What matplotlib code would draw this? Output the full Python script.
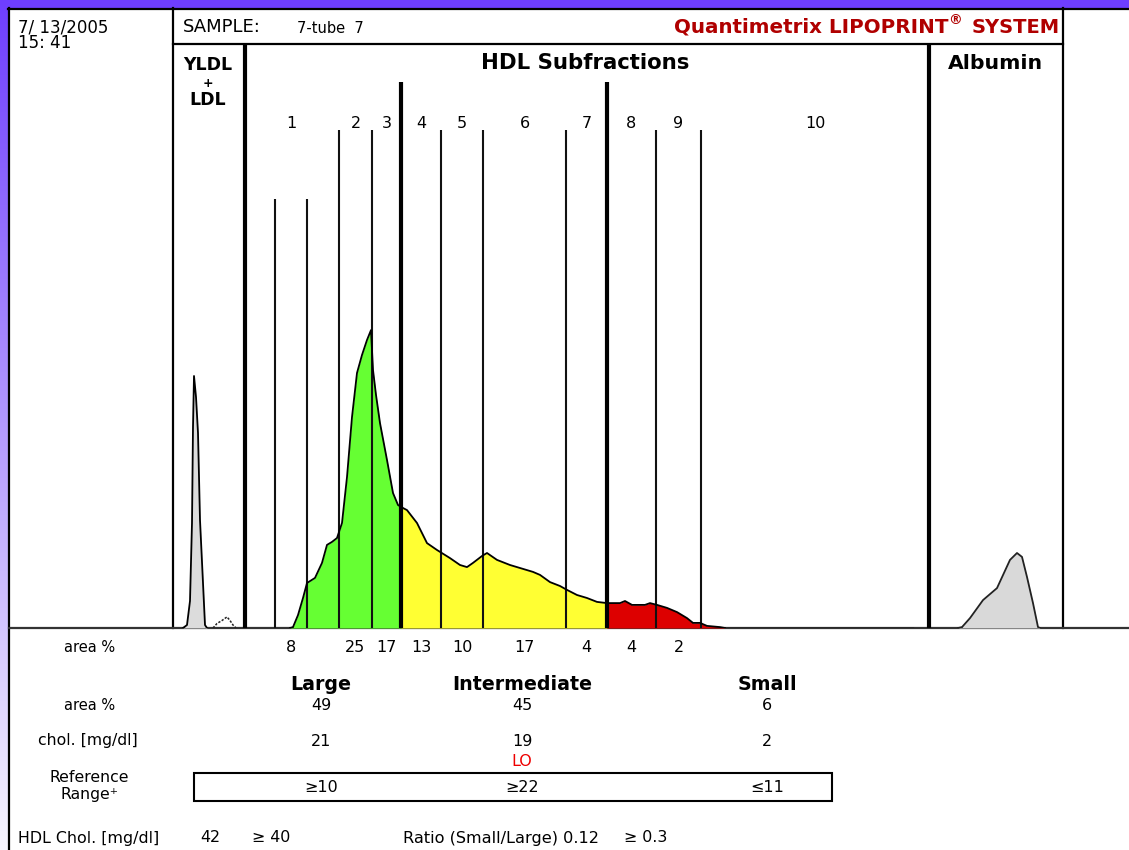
import numpy as np
import matplotlib
matplotlib.use("Agg")
import matplotlib.pyplot as plt

plt.rcParams['font.family'] = ['DejaVu Sans']

# ---- densitometric scan (position along gel, relative intensity) ----
vldl_pos = [10, 14, 17, 19, 20, 21, 23, 25, 27, 30, 32, 34]
vldl_int = [0, 1, 9, 35, 67, 84, 77, 65, 36, 15, 1, 0]

bump_pos = [40, 44, 49, 54, 57, 60, 63]
bump_int = [0, 1.5, 2.5, 3.7, 2.5, 1, 0]

hdl_pos = [117, 120, 125, 130, 134, 142, 149, 154, 159, 164, 169, 174, 179, 184,
           189, 194, 198, 200, 203, 207, 214, 220, 225, 230, 234, 244, 254, 264,
           277, 287, 294, 300, 309, 314, 324, 337, 347, 360, 367, 377, 387, 394,
           404, 414, 424, 434, 447, 452, 459, 472, 477, 484, 494, 504, 514, 520,
           527, 534, 547, 552]
hdl_int = [0, 0.3, 4.3, 10, 15, 16.7, 21.7, 27.7, 28.7, 30, 35, 50.3, 70.3, 85,
           91, 96, 99.3, 86, 77.7, 68.3, 56, 45, 41, 40, 39.3, 35, 28.3, 26,
           23.3, 21, 20.3, 21.7, 24, 25, 22.7, 21, 20, 18.7, 17.7, 15.3, 14, 12.7,
           11, 10, 8.7, 8.3, 8.3, 9, 7.7, 7.7, 8.3, 7.7, 6.7, 5.3, 3.3, 1.7,
           1.7, 0.7, 0.3, 0]

alb_pos = [785, 789, 797, 810, 824, 837, 844, 849, 854, 860, 865, 867]
alb_int = [0, 0.3, 3.3, 9.3, 13.3, 22.7, 25, 23.7, 17, 8.3, 0.3, 0]

# ---- subfraction boundaries ----
section_edges = [72, 756]                 # VLDL+LDL | HDL | Albumin
band_edges = [102, 134, 166, 199, 228, 268, 310, 393, 434, 483, 528]
band_tops = [143, 143, 166, 166, 182, 166, 166, 166, 182, 166, 166]
thick_edges = [228, 434]                  # Large | Intermediate | Small
band_names = ["1", "2", "3", "4", "5", "6", "7", "8", "9", "10"]
band_spans = [(102, 134), (166, 199), (199, 228), (228, 268), (268, 310),
              (310, 393), (393, 434), (434, 483), (483, 528), (528, 756)]
band_area = ["8", "25", "17", "13", "10", "17", "4", "4", "2", ""]

# ---- summary table ----
groups = ["Large", "Intermediate", "Small"]
group_area = ["49", "45", "6"]
group_chol = ["21", "19", "2"]
group_flag = ["", "LO", ""]
group_ref = ["\u226510", "\u226522", "\u226411"]

sample_date = "7/ 13/2005"
sample_time = "15: 41"
sample_id = "7-tube  7"
hdl_chol = "42"
hdl_ref = "\u2265 40"
ratio_text = "Ratio (Small/Large) 0.12"
ratio_ref = "\u2265 0.3"

W, H = 1129, 850
fig = plt.figure(figsize=(W / 100, H / 100), dpi=100)

# page layout layer in pixel units
lay = fig.add_axes([0, 0, 1, 1])
lay.set_xlim(0, W)
lay.set_ylim(H, 0)
lay.axis('off')

bg = np.ones((H, W, 3))
top_col = np.array([110, 62, 255]) / 255
bot_col = np.array([247, 245, 255]) / 255
bg[:8, :, :] = top_col
t = np.linspace(0, 1, H)[:, None]
bg[:, :9, :] = (top_col * (1 - t) + bot_col * t)[:, None, :]
lay.imshow(bg, extent=(0, W, H, 0), aspect='auto', interpolation='nearest', zorder=0)

K = 'black'
frame_lw = 1.6
lay.plot([9, 9], [8, H], color=K, lw=frame_lw, zorder=5)
lay.plot([8, W], [8.5, 8.5], color=K, lw=frame_lw, zorder=5)
lay.plot([173, 173], [8, 628], color=K, lw=frame_lw, zorder=5)
lay.plot([1063, 1063], [8, 628], color=K, lw=frame_lw, zorder=5)
lay.plot([173, 1063], [44, 44], color=K, lw=frame_lw, zorder=5)
lay.plot([9, W], [628, 628], color='#333333', lw=1.6, zorder=5)

# header text
lay.text(18, 27, sample_date, fontsize=12, va='center', ha='left')
lay.text(18, 43, sample_time, fontsize=12, va='center', ha='left')
lay.text(183, 27, "SAMPLE:", fontsize=13, va='center', ha='left')
lay.text(297, 28, sample_id, fontsize=10.5, va='center', ha='left')

renderer = fig.canvas.get_renderer()
red = '#b00000'
t_sys = lay.text(1060, 27, "SYSTEM", fontsize=14, fontweight='bold', color=red,
                 va='center', ha='right')
x_left = t_sys.get_window_extent(renderer).x0
t_r = lay.text(x_left - 10, 20, "\u00ae", fontsize=10, fontweight='bold', color=red,
               va='center', ha='right')
x_left = t_r.get_window_extent(renderer).x0
lay.text(x_left, 27, "Quantimetrix LIPOPRINT", fontsize=14.3, fontweight='bold',
         color=red, va='center', ha='right')

lay.text(208, 65, "YLDL", fontsize=12.5, fontweight='bold', va='center', ha='center')
lay.text(208, 83, "+", fontsize=9, fontweight='bold', va='center', ha='center')
lay.text(208, 100, "LDL", fontsize=12.5, fontweight='bold', va='center', ha='center')
lay.text(585, 63, "HDL Subfractions", fontsize=15.3, fontweight='bold', va='center', ha='center')
lay.text(995, 63, "Albumin", fontsize=14.7, fontweight='bold', va='center', ha='center')

# ---- scan chart ----
ax = fig.add_axes([173 / W, (H - 628) / H, 890 / W, 584 / H])
ax.set_xlim(0, 890)
ax.set_ylim(0, 584 / 3)
ax.axis('off')
ax.patch.set_alpha(0)


def segment(xs, ys, a, b):
    xs = np.asarray(xs, float)
    ys = np.asarray(ys, float)
    inner = xs[(xs > a) & (xs < b)]
    sx = np.concatenate([[a], inner, [b]])
    return sx, np.interp(sx, xs, ys)


gx, gy = segment(hdl_pos, hdl_int, hdl_pos[0], thick_edges[0])
yx, yy = segment(hdl_pos, hdl_int, thick_edges[0], thick_edges[1])
rx, ry = segment(hdl_pos, hdl_int, thick_edges[1], hdl_pos[-1])
ax.fill_between(gx, 0, gy, color='#66ff33', lw=0, zorder=1)
ax.fill_between(yx, 0, yy, color='#ffff33', lw=0, zorder=1)
ax.fill_between(rx, 0, ry, color='#dd0000', lw=0, zorder=1)
ax.fill_between(vldl_pos, 0, vldl_int, color='#dcdcdc', lw=0, zorder=1)
ax.fill_between(alb_pos, 0, alb_int, color='#d9d9d9', lw=0, zorder=1)

thin = [e for e in band_edges if e not in thick_edges]
thin_tops = [tp for e, tp in zip(band_edges, band_tops) if e not in thick_edges]
thick_tops = [tp for e, tp in zip(band_edges, band_tops) if e in thick_edges]
ax.vlines(thin, 0, thin_tops, colors='#111111', lw=1.5, zorder=2)
ax.vlines(thick_edges, 0, thick_tops, colors=K, lw=3, zorder=2)
ax.vlines(section_edges, 0, 584 / 3, colors=K, lw=3, zorder=2)

ax.plot(hdl_pos, hdl_int, color=K, lw=1.3, zorder=3)
ax.plot(vldl_pos, vldl_int, color=K, lw=1.3, zorder=3)
ax.plot(bump_pos, bump_int, color='#222222', lw=1.1, ls=(0, (1.5, 1)), zorder=3)
ax.plot(alb_pos, alb_int, color='#222222', lw=1.3, zorder=3)
ax.plot([hdl_pos[-1], 740], [0, 0], color=K, lw=1.0, zorder=3)

# band numbers and band areas (x in scan units, y in page pixels)
blend = matplotlib.transforms.blended_transform_factory(ax.transData, lay.transData)
for name, (a, b), area in zip(band_names, band_spans, band_area):
    xc = (a + b) / 2
    lay.text(xc, 123, name, transform=blend, fontsize=11.5, va='center', ha='center')
    if area:
        lay.text(xc, 647, area, transform=blend, fontsize=11.5, va='center', ha='center')

# ---- summary table ----
col_x = [321, 522, 767]
lay.text(90, 647, "area %", fontsize=10.5, va='center', ha='center')
lay.text(90, 705, "area %", fontsize=10.5, va='center', ha='center')
lay.text(88, 741, "chol. [mg/dl]", fontsize=11.3, va='center', ha='center')
lay.text(89, 778, "Reference", fontsize=11.3, va='center', ha='center')
lay.text(89, 795, "Range\u207a", fontsize=11.3, va='center', ha='center')
for x, g, a, c, f, r in zip(col_x, groups, group_area, group_chol, group_flag, group_ref):
    lay.text(x, 685, g, fontsize=13.7, fontweight='bold', va='center', ha='center')
    lay.text(x, 705, a, fontsize=11.5, va='center', ha='center')
    lay.text(x, 741, c, fontsize=11.5, va='center', ha='center')
    if f:
        lay.text(x, 761, f, fontsize=11.5, color='#ee0000', va='center', ha='center')
    lay.text(x, 787, r, fontsize=11.5, va='center', ha='center')
lay.add_patch(plt.Rectangle((194, 773), 638, 28, fill=False, ec=K, lw=1.5, zorder=4))

lay.text(18, 838, "HDL Chol. [mg/dl]", fontsize=11.4, va='center', ha='left')
lay.text(210, 838, hdl_chol, fontsize=11.4, va='center', ha='center')
lay.text(252, 838, hdl_ref, fontsize=11.4, va='center', ha='left')
lay.text(403, 838, ratio_text, fontsize=11.6, va='center', ha='left')
lay.text(624, 838, ratio_ref, fontsize=11.4, va='center', ha='left')

fig.savefig("out.png", dpi=100)
